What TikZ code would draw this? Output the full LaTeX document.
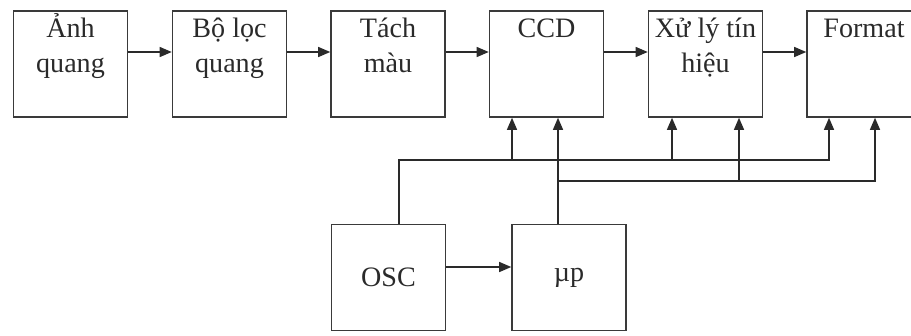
\documentclass[tikz,border=0pt]{standalone}
\usepackage{fontspec}
\setmainfont{Liberation Serif}
\usetikzlibrary{arrows.meta, positioning, calc}
\definecolor{boxc}{HTML}{3A3A3A}
\definecolor{linec}{HTML}{2A2A2A}
\newcommand{\blk}[3]{%
  \node[blk] (#1) at #2 {};
  \node[blktxt, anchor=north] at ([yshift=-0.05cm]#1.north) {\vphantom{Ả}#3};
}

\begin{document}
\begin{tikzpicture}[x=0.02cm, y=-0.02cm,
      >={Triangle[length=2.4mm, width=2mm]}, line width=0.7pt,
      blk/.style={draw=boxc, line width=0.9pt, minimum width=2.28cm,
                  minimum height=2.12cm, inner sep=0pt,
                  font=\fontsize{16}{20}\selectfont, text=linec},
      blktxt/.style={align=center, inner sep=0pt, text=linec,
                     font=\fontsize{16}{20}\selectfont}]
    \path[use as bounding box, clip] (0,0) rectangle (911,335);
    \blk{anh}{(70.5,64)}{Ảnh\\quang}
    \blk{boloc}{(229.5,64)}{Bộ lọc\\quang}
    \blk{tach}{(388,64)}{Tách\\màu}
    \blk{ccd}{(546.5,64)}{CCD}
    \blk{xuly}{(705.5,64)}{Xử lý tín\\hiệu}
    \blk{fmt}{(864,64)}{Format}
    \node[blk] (osc) at (388.5,277.5) {OSC};
    \node[blk] (up) at (569,277.5) {µp};
    \coordinate (busa) at (0,160);
    \coordinate (busb) at (0,181);
    \foreach \a/\b in {anh/boloc, boloc/tach, tach/ccd, ccd/xuly, xuly/fmt}
      \draw[->, linec] ([yshift=0.24cm]\a.east) -- ([yshift=0.24cm]\b.west);
    \draw[->, linec] ([yshift=0.21cm]osc.east) -- ([yshift=0.21cm]up.west);
    % clock line
    \draw[->, linec] ([xshift=0.21cm]osc.north) |- ([xshift=-0.7cm]fmt.south |- busa)
      -- ([xshift=-0.7cm]fmt.south);
    \draw[->, linec] ([xshift=-0.69cm]ccd.south |- busa) -- ([xshift=-0.69cm]ccd.south);
    \draw[->, linec] ([xshift=-0.67cm]xuly.south |- busa) -- ([xshift=-0.67cm]xuly.south);
    % control line
    \draw[->, linec] ([xshift=0.23cm]ccd.south |- up.north) -- ([xshift=0.23cm]ccd.south);
    \draw[->, linec] ([xshift=0.23cm]ccd.south |- busb) -| ([xshift=0.22cm]fmt.south);
    \draw[->, linec] ([xshift=0.67cm]xuly.south |- busb) -- ([xshift=0.67cm]xuly.south);
  \end{tikzpicture}
\end{document}
